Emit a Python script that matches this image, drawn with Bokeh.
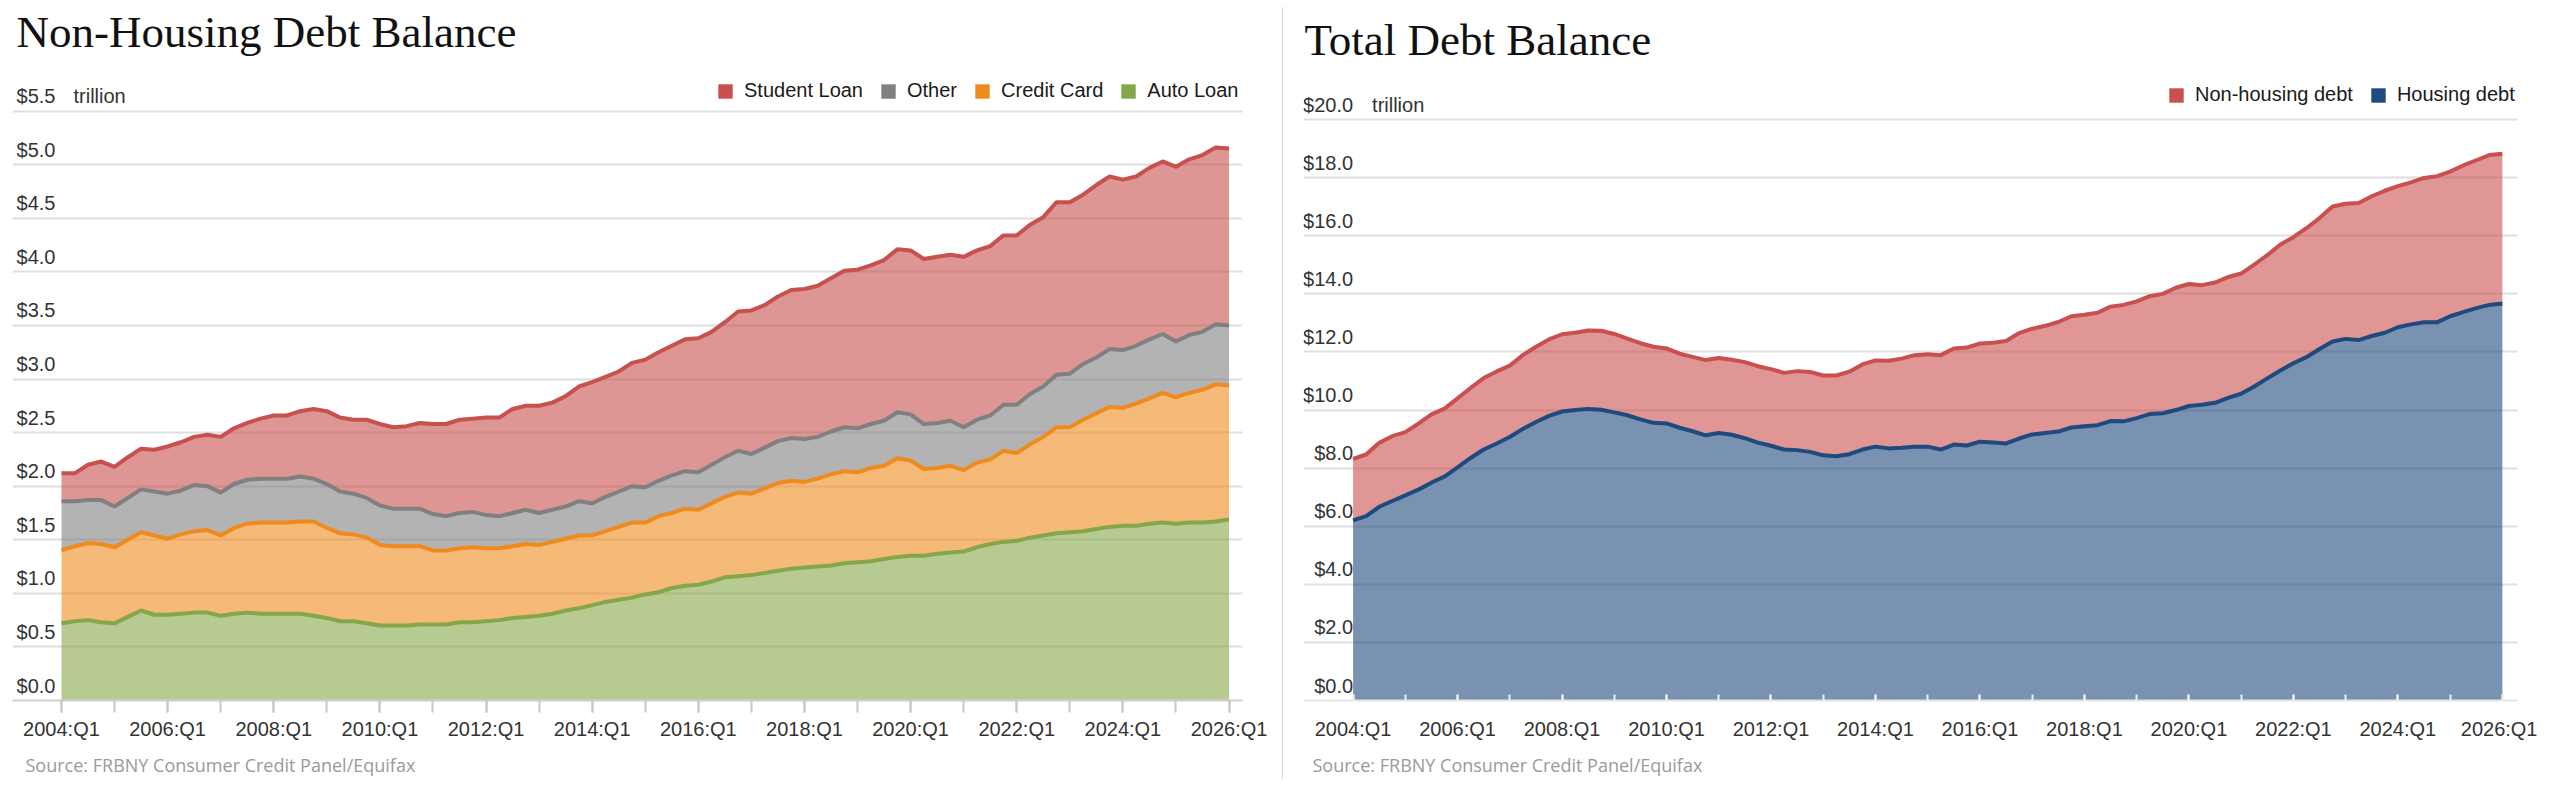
from bokeh.plotting import figure
from bokeh.models import ColumnDataSource, FixedTicker, Legend, LegendItem, Title, Div
from bokeh.layouts import row
from bokeh.transform import stack
from bokeh.core.properties import value
from bokeh.embed import file_html
from bokeh.resources import INLINE

# ---------------- data (trillions of dollars) ----------------
quarters = [f"{y}:Q{q}" for y in range(2004, 2026) for q in range(1, 5)] + ["2026:Q1"]

auto_loan = [
    0.72, 0.74, 0.75, 0.73,  0.72, 0.78, 0.84, 0.80,  0.80, 0.81, 0.82, 0.82,
    0.79, 0.81, 0.82, 0.81,  0.81, 0.81, 0.81, 0.79,  0.77, 0.74, 0.74, 0.72,
    0.70, 0.70, 0.70, 0.71,  0.71, 0.71, 0.73, 0.73,  0.74, 0.75, 0.77, 0.78,
    0.79, 0.81, 0.84, 0.86,  0.89, 0.92, 0.94, 0.96,  0.99, 1.01, 1.05, 1.07,
    1.08, 1.11, 1.15, 1.16,  1.17, 1.19, 1.21, 1.23,  1.24, 1.25, 1.26, 1.28,
    1.29, 1.30, 1.32, 1.34,  1.35, 1.35, 1.37, 1.38,  1.39, 1.43, 1.46, 1.48,
    1.49, 1.52, 1.54, 1.56,  1.57, 1.58, 1.60, 1.62,  1.63, 1.63, 1.65, 1.66,
    1.65, 1.66, 1.66, 1.67,  1.69]

credit_card = [
    0.68, 0.70, 0.72, 0.73,  0.71, 0.72, 0.73, 0.74,  0.71, 0.74, 0.76, 0.77,
    0.75, 0.80, 0.83, 0.85,  0.85, 0.85, 0.86, 0.88,  0.84, 0.82, 0.81, 0.80,
    0.75, 0.74, 0.74, 0.73,  0.69, 0.69, 0.69, 0.70,  0.68, 0.67, 0.67, 0.68,
    0.66, 0.67, 0.67, 0.68,  0.65, 0.66, 0.68, 0.70,  0.67, 0.71, 0.70, 0.72,
    0.70, 0.73, 0.75, 0.78,  0.76, 0.79, 0.82, 0.82,  0.80, 0.82, 0.85, 0.86,
    0.84, 0.87, 0.87, 0.92,  0.89, 0.81, 0.80, 0.81,  0.76, 0.79, 0.79, 0.85,
    0.82, 0.87, 0.92, 0.99,  0.98, 1.04, 1.08, 1.12,  1.10, 1.14, 1.17, 1.21,
    1.18, 1.21, 1.24, 1.28,  1.25]

other = [
    0.46, 0.42, 0.40, 0.41,  0.38, 0.39, 0.40, 0.41,  0.42, 0.41, 0.43, 0.41,
    0.40, 0.41, 0.41, 0.41,  0.41, 0.41, 0.42, 0.40,  0.41, 0.39, 0.38, 0.37,
    0.37, 0.35, 0.35, 0.35,  0.34, 0.32, 0.33, 0.33,  0.31, 0.30, 0.31, 0.32,
    0.30, 0.30, 0.30, 0.32,  0.30, 0.32, 0.33, 0.34,  0.33, 0.33, 0.35, 0.35,
    0.35, 0.36, 0.37, 0.39,  0.37, 0.38, 0.39, 0.40,  0.40, 0.39, 0.40, 0.41,
    0.41, 0.41, 0.42, 0.43,  0.43, 0.42, 0.42, 0.42,  0.40, 0.40, 0.41, 0.43,
    0.45, 0.47, 0.47, 0.49,  0.50, 0.52, 0.52, 0.54,  0.54, 0.54, 0.55, 0.55,
    0.52, 0.54, 0.54, 0.56,  0.56]

student_loan = [
    0.26, 0.26, 0.33, 0.36,  0.37, 0.38, 0.38, 0.39,  0.44, 0.45, 0.45, 0.48,
    0.52, 0.52, 0.53, 0.56,  0.59, 0.59, 0.61, 0.65,  0.68, 0.69, 0.69, 0.73,
    0.76, 0.76, 0.77, 0.80,  0.84, 0.86, 0.87, 0.87,  0.91, 0.92, 0.97, 0.97,
    1.00, 1.00, 1.03, 1.07,  1.13, 1.12, 1.12, 1.15,  1.19, 1.20, 1.21, 1.23,
    1.25, 1.24, 1.26, 1.30,  1.34, 1.33, 1.35, 1.38,  1.40, 1.41, 1.43, 1.46,
    1.48, 1.48, 1.50, 1.52,  1.53, 1.54, 1.55, 1.55,  1.59, 1.58, 1.58, 1.58,
    1.58, 1.58, 1.58, 1.61,  1.60, 1.58, 1.61, 1.61,  1.59, 1.58, 1.60, 1.61,
    1.63, 1.64, 1.65, 1.65,  1.65]

housing_debt = [
    6.20, 6.35, 6.67, 6.87,  7.06, 7.26, 7.50, 7.71,  8.03, 8.35, 8.64, 8.85,
    9.07, 9.35, 9.59, 9.80,  9.95, 10.00, 10.04, 10.01,  9.92, 9.82, 9.68, 9.56,
    9.54, 9.39, 9.27, 9.13,  9.21, 9.15, 9.03, 8.88,  8.77, 8.64, 8.62, 8.56,
    8.44, 8.41, 8.48, 8.64,  8.74, 8.68, 8.70, 8.74,  8.74, 8.64, 8.81, 8.78,
    8.91, 8.88, 8.85, 9.02,  9.16, 9.21, 9.26, 9.40,  9.44, 9.48, 9.62, 9.61,
    9.72, 9.86, 9.89, 10.00,  10.14, 10.18, 10.25, 10.42,  10.56, 10.81, 11.09, 11.36,
    11.61, 11.82, 12.10, 12.36,  12.45, 12.41, 12.55, 12.66,  12.85, 12.95, 13.02, 13.02,
    13.23, 13.37, 13.51, 13.62,  13.67]

x_tick_years = list(range(2004, 2027, 2))
x_tick_labels = ["2004:Q1", "2006:Q1", "2008:Q1", "2010:Q1", "2012:Q1", "2014:Q1",
                 "2016:Q1", "2018:Q1", "2020:Q1", "2022:Q1", "2024:Q1", "2026:Q1"]
x_minor_years = list(range(2004, 2027))

left_y_ticks = [0.0, 0.5, 1.0, 1.5, 2.0, 2.5, 3.0, 3.5, 4.0, 4.5, 5.0, 5.5]
left_y_labels = ["$0.0", "$0.5", "$1.0", "$1.5", "$2.0", "$2.5", "$3.0", "$3.5",
                 "$4.0", "$4.5", "$5.0", "$5.5"]
right_y_ticks = [0, 2, 4, 6, 8, 10, 12, 14, 16, 18, 20]
right_y_labels = ["$0.0", "$2.0", "$4.0", "$6.0", "$8.0", "$10.0", "$12.0", "$14.0",
                  "$16.0", "$18.0", "$20.0"]

# ---------------- styling ----------------
SANS = "Liberation Sans"
SERIF = "Liberation Serif"
SRC_FONT = "Open Sans"
TXT = "#333333"
GRID = "#dedede"

C_STUDENT = "#c8504d"
C_OTHER = "#808080"
C_CARD = "#ee8a1e"
C_AUTO = "#85a64a"
C_NONH = "#c9504f"
C_HOUSE = "#1f4a7e"

xq = [int(s[:4]) + (int(s[-1]) - 1) / 4 for s in quarters]
nonhousing = [a + b + c + d for a, b, c, d in zip(auto_loan, credit_card, other, student_loan)]
x_first = xq[0]

FRAME_H = 700


def base_fig(fw, bl, br, xr, yr, title, title_dx, title_dy):
    p = figure(frame_width=fw, frame_height=FRAME_H, min_border_left=bl, min_border_right=br,
               min_border_top=0, min_border_bottom=0, x_range=xr, y_range=yr, title=None,
               y_axis_location=None, output_backend="svg", toolbar_location=None)
    p.outline_line_color = None
    p.background_fill_color = "white"
    # chart title, anchored at the top-left corner of the plot area
    p.text(x=[xr[0]], y=[yr[1]], text=[title], text_font=value(SERIF),
           text_font_size="45px", text_color="#111111", text_baseline="alphabetic",
           text_align="left", x_offset=title_dx, y_offset=title_dy)
    p.xgrid.grid_line_color = None
    ax = p.xaxis[0]
    ax.ticker = FixedTicker(ticks=x_tick_years, minor_ticks=x_minor_years)
    ax.major_label_overrides = {yr_: lab for yr_, lab in zip(x_tick_years, x_tick_labels)}
    ax.major_label_text_font = SANS
    ax.major_label_text_font_size = "20px"
    ax.major_label_text_color = TXT
    return p


def y_labels(p, ticks, labels, label_dx, trillion_dx):
    src = ColumnDataSource(dict(x=[x_first] * len(ticks), y=ticks, text=labels))
    p.text(x="x", y="y", text="text", source=src, text_font=value(SANS),
           text_font_size="20px", text_color=TXT, text_baseline="bottom",
           text_align="right", x_offset=label_dx, y_offset=-4)
    p.text(x=[x_first], y=[ticks[-1]], text=["trillion"], text_font=value(SANS),
           text_font_size="20px", text_color=TXT, text_baseline="bottom",
           text_align="left", x_offset=trillion_dx, y_offset=-4)
    p.ygrid.ticker = FixedTicker(ticks=ticks)
    p.ygrid.grid_line_color = GRID
    p.ygrid.grid_line_width = 2


def add_legend(p, src, entries, loc):
    items = []
    for name, col in entries:
        # zero-area swatch renderer (invisible in the plot, used for the legend key)
        r = p.quad(left="x", right="x", top=0, bottom=0, source=src,
                   fill_color=col, line_color=None)
        items.append(LegendItem(label=name, renderers=[r]))
    lg = Legend(items=items, location=loc, orientation="horizontal",
                label_text_font=SANS, label_text_font_size="20px", label_text_color="#1a1a1a",
                glyph_width=18, glyph_height=18, label_standoff=10, spacing=16,
                padding=0, margin=0, border_line_color=None, background_fill_alpha=0)
    p.add_layout(lg)


def source_note(p, offset):
    p.add_layout(Title(text="Source: FRBNY Consumer Credit Panel/Equifax", align="left",
                       text_font=SRC_FONT, text_font_size="18px", text_font_style="normal",
                       text_color="#9a9a9a", offset=offset, standoff=17), "below")


# ---------------- left chart ----------------
p1 = base_fig(1230, 12, 40, (2003.077, 2026.254), (0, 6.532),
              "Non-Housing Debt Balance", 4, 31)
ax1 = p1.xaxis[0]
for k in ("major", "minor"):
    setattr(ax1, f"{k}_tick_out", 12)
    setattr(ax1, f"{k}_tick_in", 0)
    setattr(ax1, f"{k}_tick_line_color", "#c8c8c8")
    setattr(ax1, f"{k}_tick_line_width", 2)
ax1.axis_line_color = "#d0d0d0"
ax1.axis_line_width = 2
ax1.major_label_standoff = 5

src1 = ColumnDataSource(dict(x=xq, auto=auto_loan, card=credit_card, other=other,
                             student=student_loan))
names = ["auto", "card", "other", "student"]
cols = [C_AUTO, C_CARD, C_OTHER, C_STUDENT]
y_labels(p1, left_y_ticks, left_y_labels, -6, 12)
p1.varea_stack(stackers=names, x="x", fill_color=cols, fill_alpha=0.6, source=src1)
for i, c in enumerate(cols):
    p1.line(x="x", y=stack(*names[:i + 1]), line_color=c, line_width=4,
            line_join="round", source=src1)
add_legend(p1, src1, [("Student Loan", C_STUDENT), ("Other", C_OTHER),
                      ("Credit Card", C_CARD), ("Auto Loan", C_AUTO)], (704, 598))
source_note(p1, 13)

# ---------------- right chart ----------------
p2 = base_fig(1214, 20, 20, (2003.051, 2026.290), (0, 24.10),
              "Total Debt Balance", 1, 39)
ax2 = p2.xaxis[0]
for k in ("major", "minor"):
    setattr(ax2, f"{k}_tick_out", 0)
    setattr(ax2, f"{k}_tick_in", 6)
    setattr(ax2, f"{k}_tick_line_color", "#eeeeee")
    setattr(ax2, f"{k}_tick_line_width", 2)
ax2.axis_line_color = "#e4e4e4"
ax2.axis_line_width = 2
ax2.major_label_standoff = 17

src2 = ColumnDataSource(dict(x=xq, housing=housing_debt, nonhousing=nonhousing))
y_labels(p2, right_y_ticks, right_y_labels, 0, 19)
p2.varea_stack(stackers=["housing", "nonhousing"], x="x", fill_color=[C_HOUSE, C_NONH],
               fill_alpha=0.6, source=src2)
p2.line(x="x", y=stack("housing", "nonhousing"), line_color=C_NONH, line_width=4,
        line_join="round", source=src2)
p2.line(x="x", y=stack("housing"), line_color=C_HOUSE, line_width=4,
        line_join="round", source=src2)
add_legend(p2, src2, [("Non-housing debt", C_NONH), ("Housing debt", C_HOUSE)], (864, 594))
source_note(p2, 9)

divider = Div(text="", width=1, height=772, margin=(7, 0, 0, 0),
              styles={"background-color": "#d6d6d6"})

layout = row(p1, divider, p2, spacing=0)
open("out.html", "w").write(file_html(layout, INLINE))
